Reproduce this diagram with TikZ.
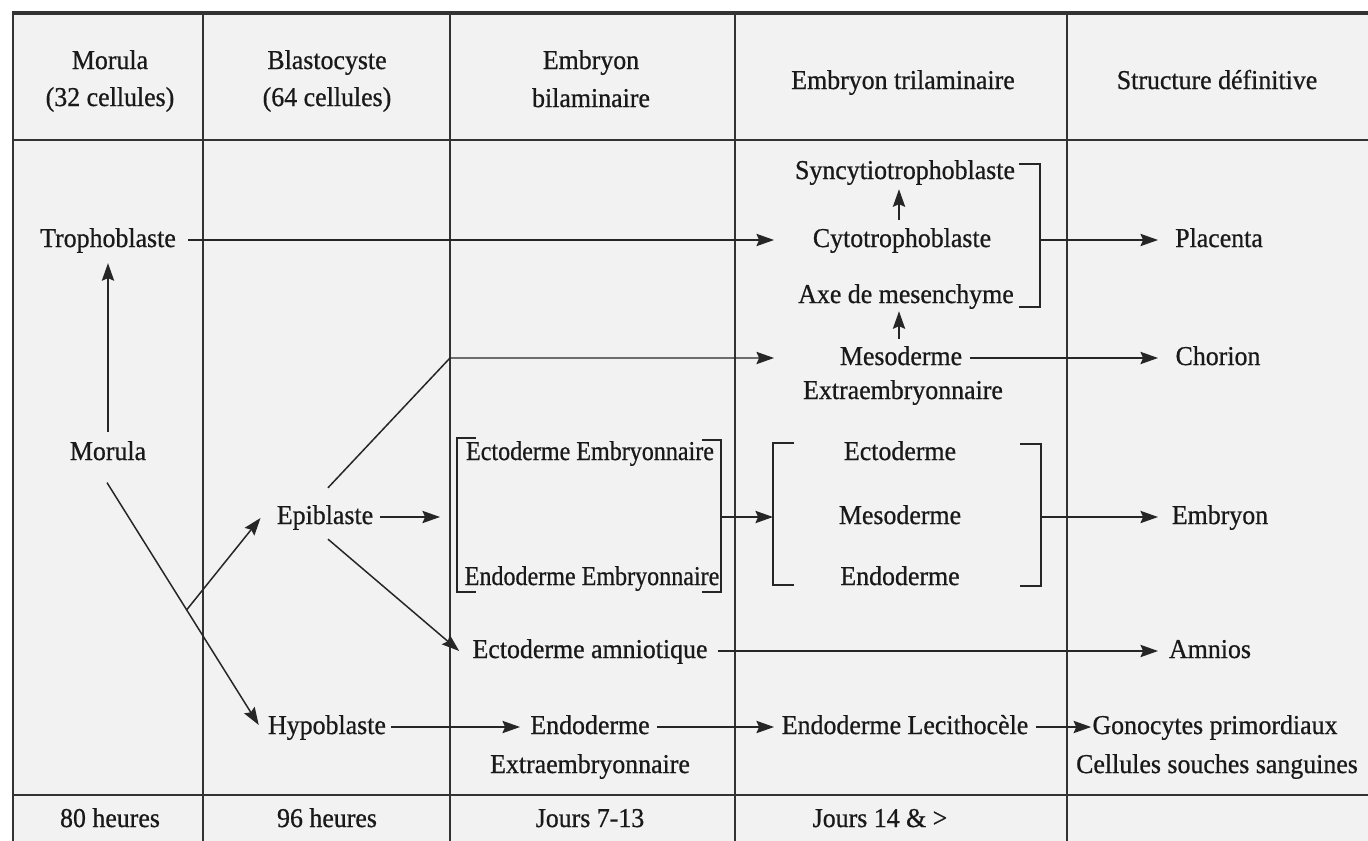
\documentclass[tikz,border=0pt]{standalone}
\usepackage{graphicx}
\usepackage{fontspec}
\setmainfont[FakeStretch=0.95,FakeBold=0.7]{Liberation Serif}
\usetikzlibrary{arrows.meta,calc}
\begin{document}
\begin{tikzpicture}[x=0.02cm,y=-0.02cm,
  txt/.style={inner sep=0pt, anchor=mid, font=\fontsize{15.5}{18}\selectfont, text=black!90,
    execute at begin node={\lower1.7pt\hbox\bgroup}, execute at end node={\egroup}},
  grid/.style={line width=1.1pt, draw=black!80},
  conn/.style={line width=0.85pt, draw=black!85},
  arr/.style={conn, -{Stealth[length=10pt,width=7pt,inset=1.5pt]}},
  brk/.style={line width=0.85pt, draw=black!85}]
\useasboundingbox (0,0) rectangle (1368,841);
\fill[white] (0,0) rectangle (1368,841);
\fill[black!5] (12,12) rectangle (1368,841);
% table
\draw[grid, line width=2pt] (12,13) -- (1368,13);
\draw[grid] (12,140) -- (1368,140);
\draw[grid] (12,795) -- (1368,795);
\foreach \x in {13,203,450,735,1067} \draw[grid] (\x,12) -- (\x,841);
% column arrow-tip positions
\coordinate (xT) at (774,0);
\coordinate (xS) at (1158,0);
\coordinate (c3) at (450,0);
% header
\node[txt] (h1a) at (110,62) {Morula};
\node[txt] (h1b) at (110,99) {(32 cellules)};
\node[txt] (h2a) at (327,62) {Blastocyste};
\node[txt] (h2b) at (327,99) {(64 cellules)};
\node[txt] (h3a) at (591,62) {Embryon};
\node[txt] (h3b) at (591,100) {bilaminaire};
\node[txt] (h4) at (903,82) {Embryon trilaminaire};
\node[txt] (h5) at (1217,82) {Structure définitive};
% footer
\node[txt] (t1) at (110,820) {80 heures};
\node[txt] (t2) at (327,820) {96 heures};
\node[txt] (t3) at (590,820) {Jours 7-13};
\node[txt] (t4) at (880,820) {Jours 14 \& >};
% body
\node[txt] (tropho) at (108,240) {Trophoblaste};
\node[txt] (morula) at (108,453) {Morula};
\node[txt] (epi) at (325,517) {Epiblaste};
\node[txt] (hypo) at (327,727) {Hypoblaste};
\node[txt] (ectoEmb) at (590,453) {\scalebox{0.93}[1]{Ectoderme Embryonnaire}};
\node[txt] (endoEmb) at (592,578) {\scalebox{0.93}[1]{Endoderme Embryonnaire}};
\node[txt] (ectoAmn) at (590,651) {Ectoderme amniotique};
\node[txt] (endoX) at (590,727) {Endoderme};
\node[txt] (endoX2) at (590,766) {Extraembryonnaire};
\node[txt] (syn) at (905,172) {Syncytiotrophoblaste};
\node[txt] (cyto) at (902,240) {Cytotrophoblaste};
\node[txt] (axe) at (906,296) {Axe de mesenchyme};
\node[txt] (meso) at (901,358) {Mesoderme};
\node[txt] (mesoX) at (903,392) {Extraembryonnaire};
\node[txt] (ecto) at (900,453) {Ectoderme};
\node[txt] (meso2) at (900,517) {Mesoderme};
\node[txt] (endo) at (900,578) {Endoderme};
\node[txt] (lecith) at (905,727) {Endoderme Lecithocèle};
\node[txt] (placenta) at (1219,240) {Placenta};
\node[txt] (chorion) at (1218,358) {Chorion};
\node[txt] (embryon) at (1220,517) {Embryon};
\node[txt] (amnios) at (1210,651) {Amnios};
\node[txt] (gono) at (1215,727) {Gonocytes primordiaux};
\node[txt] (cellules) at (1217,766) {Cellules souches sanguines};
% brackets
\coordinate (b1t) at (1019,164); \coordinate (b1b) at (1019,307);
\draw[brk] (b1t) -- (1040,164) -- (1040,307) -- (b1b);
\coordinate (b1m) at (1040,240);
\draw[brk] (476,438) -- (457,438) -- (457,592) -- (476,592);
\draw[brk] (702,440) -- (721,440) -- (721,592) -- (702,592);
\coordinate (g1r) at (721,517);
\coordinate (g2l) at (773,517);
\draw[brk] (794,443) -- (773,443) -- (773,585) -- (794,585);
\draw[brk] (1020,444) -- (1041,444) -- (1041,586) -- (1020,586);
\coordinate (g2r) at (1041,517);
\coordinate (xE) at (440,0);
% connectors
\draw[arr] ($(tropho.mid east)+(12,0)$) -- (tropho.mid east -| xT);
\draw[arr] ($(morula.north)+(0,-9)$) -- ($(tropho.south)+(0,10)$);
\coordinate (mstart) at ($(morula.south)+(-1,22)$);
\coordinate (mend) at ($(hypo.mid west)+(-9,-2)$);
\draw[arr] (mstart) -- (mend);
\coordinate (j) at ($(mstart)!0.525!(mend)$);
\draw[arr] (j) -- ($(epi.mid west)+(-16,1)$);
\draw[arr] ($(epi.mid east)+(7,0)$) -- (epi.mid east -| xE);
\draw[arr] ($(epi.north)+(3,-17)$) -- (meso.mid -| c3) -- (meso.mid -| xT);
\draw[arr] ($(epi.south)+(3,9)$) -- ($(ectoAmn.mid west)+(-13,0)$);
\draw[arr] ($(ectoAmn.mid east)+(10,0)$) -- (ectoAmn.mid east -| xS);
\draw[arr] ($(hypo.mid east)+(5,0)$) -- ($(endoX.mid west)+(-10,0)$);
\draw[arr] ($(endoX.mid east)+(7,0)$) -- (endoX.mid east -| xT);
\draw[arr] ($(lecith.mid east)+(7,0)$) -- ($(gono.mid west)+(-1,0)$);
\draw[arr] ($(cyto.north)+(-3,-8)$) -- ($(syn.south)+(-6,4)$);
\draw[arr] ($(meso.north)+(-2,-7)$) -- ($(axe.south)+(-7,2)$);
\draw[arr] ($(meso.mid east)+(8,0)$) -- (meso.mid east -| xS);
\draw[arr] (b1m) -- (b1m -| xS);
\draw[arr] (g1r) -- (g2l);
\draw[arr] (g2r) -- (g2r -| xS);
\end{tikzpicture}
\end{document}
